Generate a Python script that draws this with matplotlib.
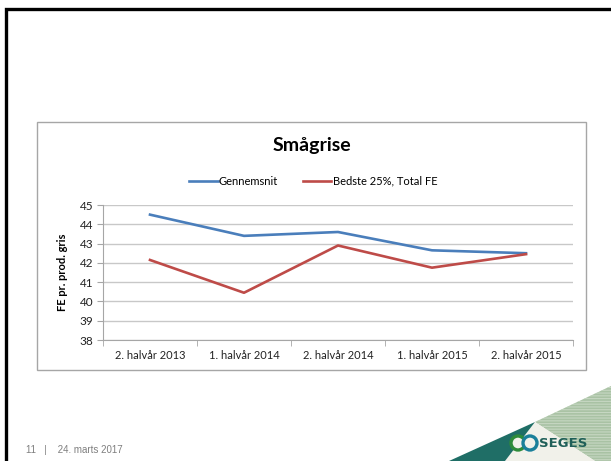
import matplotlib
matplotlib.use("Agg")
import matplotlib.pyplot as plt
from matplotlib.patches import Rectangle, Polygon, Ellipse
from matplotlib.lines import Line2D

# data
kategorier = ["2. halvår 2013", "1. halvår 2014", "2. halvår 2014",
              "1. halvår 2015", "2. halvår 2015"]
gennemsnit = [44.5, 43.4, 43.6, 42.65, 42.5]
bedste25 = [42.15, 40.45, 42.9, 41.75, 42.45]
y_ticks = [38, 39, 40, 41, 42, 43, 44, 45]

W, H = 611, 461
plt.rcParams['font.family'] = ['Lato', 'DejaVu Sans']
plt.rcParams['hatch.linewidth'] = 0.8

fig = plt.figure(figsize=(W / 100, H / 100), dpi=100)
fig.patch.set_facecolor("white")


def fx(x):
    return x / W


def fy(y):
    return 1 - y / H


# slide frame
fig.add_artist(Line2D([fx(6), fx(6), fx(611)], [fy(461), fy(9), fy(9)], color="black",
                      lw=2.4, solid_joinstyle="miter", transform=fig.transFigure,
                      zorder=-2))

# chart box
fig.add_artist(Rectangle((fx(37), fy(370)), fx(586) - fx(37), fy(122) - fy(370),
                         transform=fig.transFigure, facecolor="white",
                         edgecolor="#a6a6a6", lw=1.0, zorder=-2))

ax = fig.add_axes([fx(103), fy(340), fx(573) - fx(103), fy(205) - fy(340)])
ax.set_zorder(3)
ax.patch.set_alpha(0)
x = list(range(len(kategorier)))
l1, = ax.plot(x, gennemsnit, color="#4a7ebb", lw=1.9, label="Gennemsnit")
l2, = ax.plot(x, bedste25, color="#be4b48", lw=1.9, label="Bedste 25%, Total FE")

ax.set_xlim(-0.5, len(kategorier) - 0.5)
ax.set_ylim(38, 45)
ax.set_yticks(y_ticks)
ax.set_xticks(x)
ax.set_xticklabels(kategorier)
ax.set_xticks([i - 0.5 for i in range(len(kategorier) + 1)], minor=True)
ax.tick_params(axis="x", which="major", length=0, labelsize=8, pad=7, labelcolor="#222222")
ax.tick_params(axis="x", which="minor", length=4, color="#a6a6a6", direction="out")
ax.tick_params(axis="y", length=4, color="#a6a6a6", labelsize=8.5, pad=3, labelcolor="#222222")
ax.grid(axis="y", color="#c8c8c8", lw=1.0)
ax.set_axisbelow(True)
for s in ["top", "right"]:
    ax.spines[s].set_visible(False)
for s in ["left", "bottom"]:
    ax.spines[s].set_color("#a6a6a6")
ax.set_ylabel("FE pr. prod. gris", fontsize=8, fontweight="bold", labelpad=8)

fig.text(fx(312), fy(146), "Smågrise", ha="center", va="center",
         fontsize=14, fontweight="bold", color="black")
fig.legend(handles=[l1, l2], loc="center", bbox_to_anchor=(fx(313), fy(181)),
           ncol=2, frameon=False, fontsize=8, handlelength=2.6,
           handletextpad=0.1, columnspacing=2.2)

# footer
fig.text(fx(26), fy(450), "11   |    24. marts 2017", fontsize=7, color="#7f7f7f",
         family="Liberation Sans", va="center")

# decoration bottom right
fig.add_artist(Polygon([(fx(535), fy(422)), (fx(611), fy(386)), (fx(611), fy(461)),
                        (fx(595), fy(461))], closed=True, transform=fig.transFigure,
                       facecolor="#a9c2a4", edgecolor="#c6d7c2", lw=0,
                       hatch="------"))
fig.add_artist(Polygon([(fx(535), fy(422)), (fx(595), fy(461)), (fx(505), fy(461))],
                       closed=True, transform=fig.transFigure,
                       facecolor="#f1f1ea", edgecolor="none"))
fig.add_artist(Polygon([(fx(449), fy(461)), (fx(535), fy(422)), (fx(505), fy(461))],
                       closed=True, transform=fig.transFigure,
                       facecolor="#1f6e66", edgecolor="none"))
fig.add_artist(Ellipse((fx(518), fy(443)), 14 / W, 14 / H, transform=fig.transFigure,
                       facecolor="#f1f1ea", edgecolor="#2e8b3a", lw=2.4))
fig.add_artist(Ellipse((fx(530), fy(443)), 14 / W, 14 / H, transform=fig.transFigure,
                       facecolor="#f1f1ea", edgecolor="#1a7f9a", lw=2.4))
fig.text(fx(539), fy(443), "SEGES", fontsize=9.5, fontweight="bold", color="#1f5f58",
         va="center", family="Liberation Sans Narrow")

fig.savefig("out.png", dpi=100)
